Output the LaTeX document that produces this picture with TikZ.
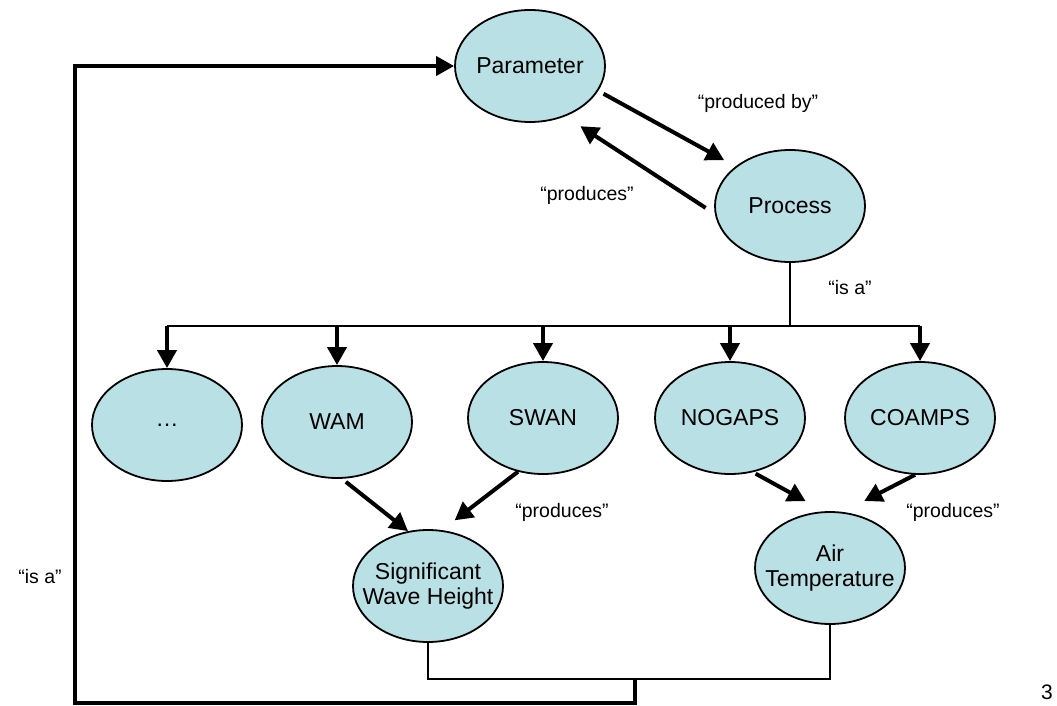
\documentclass[tikz,border=0pt]{standalone}
\usepackage{fontspec}
\setmainfont{Liberation Sans}
\usetikzlibrary{shapes.geometric,arrows.meta}
\definecolor{nodefill}{RGB}{185,224,228}

\begin{document}
\begin{tikzpicture}[x=1pt,y=-1pt,
  concept/.style={draw,ellipse,fill=nodefill,line width=1.8pt,minimum width=150pt,minimum height=112pt,inner xsep=-30pt,inner ysep=0pt,align=center,font=\fontsize{23}{25}\selectfont},
  rel/.style={font=\fontsize{19.5}{21}\selectfont},
  link/.style={line width=4pt,-{Triangle[length=18pt,width=19pt]}},
  tie/.style={line width=2pt}]

\useasboundingbox (0,0) rectangle (1057,706);

\node[concept] (parameter) at (530,66) {Parameter};
\node[concept] (process) at (790,206) {Process};
\node[concept] (dots) at (167,425) {…};
\node[concept] (wam) at (337,422) {WAM};
\node[concept] (swan) at (543,418) {SWAN};
\node[concept] (nogaps) at (730,418) {NOGAPS};
\node[concept] (coamps) at (920,418) {COAMPS};
\node[concept] (swh) at (428,586) {Significant\\Wave Height};
\node[concept] (air) at (830,568) {Air\\Temperature};

\node[rel] (producedby) at (758,103) {“produced by”};
\node[rel] (produces) at (587,195) {“produces”};
\node[rel] (isa) at (850,288) {“is a”};
\node[rel] (produces2) at (562,512) {“produces”};
\node[rel] (produces3) at (953,512) {“produces”};
\node[rel] (isa2) at (40,577) {“is a”};
\node[font=\fontsize{21}{23}\selectfont] (page) at (1047,692) {3};

\coordinate (bar) at (786,326);
\coordinate (join) at (635,679);
\coordinate (loop) at (75,703);

% parameter <-> process
\draw[link,shorten <=6pt,shorten >=13pt] (parameter.-20) -- (process.144);
\draw[link,shorten <=11pt,shorten >=18pt] (process.186) -- (parameter.-55);

% is a
\draw[tie] (process.south) -- (process.south |- bar);
\draw[tie] (bar -| dots.north) -- (bar -| coamps.north);
\draw[link] (bar -| dots.north) -- (dots.north);
\draw[link] (bar -| wam.north) -- (wam.north);
\draw[link] (bar -| swan.north) -- (swan.north);
\draw[link] (bar -| nogaps.north) -- (nogaps.north);
\draw[link] (bar -| coamps.north) -- (coamps.north);

% produces
\draw[link,shorten <=5pt] (wam.-85) -- (swh.110);
\draw[link,shorten >=16pt] (swan.-115) -- (swh.76);
\draw[link,shorten <=3pt,shorten >=21pt] (nogaps.-67) -- (air.96);
\draw[link,shorten >=24pt] (coamps.-95) -- (air.77);

% parameters back to parameter
\draw[tie] (swh.south) |- (join) -| (air.south);
\draw[link] (join) |- (loop) |- (parameter.west);

\end{tikzpicture}
\end{document}
